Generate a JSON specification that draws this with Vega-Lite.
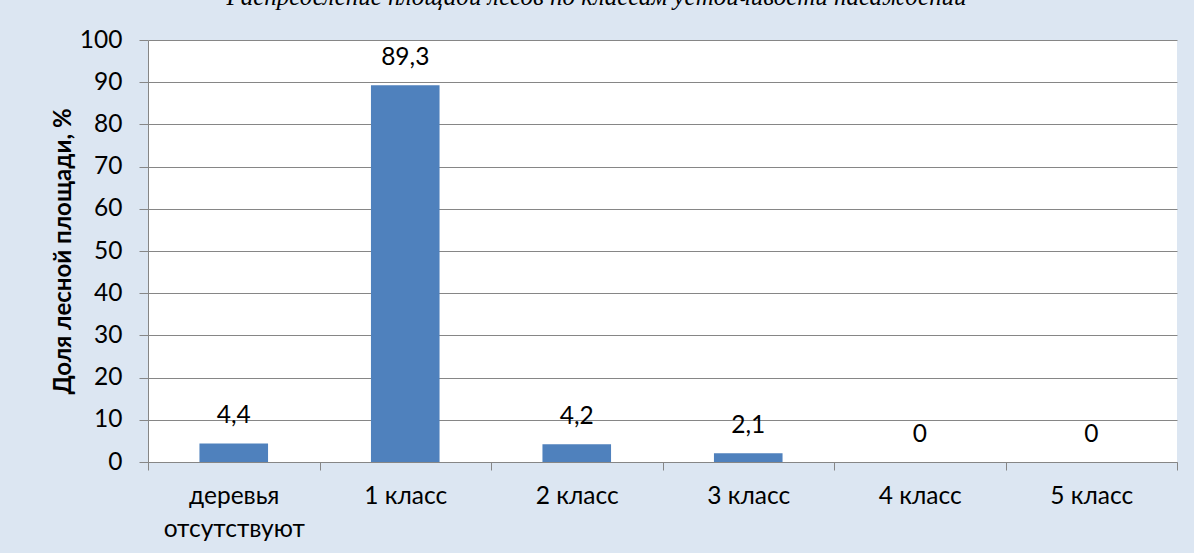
{
  "$schema": "https://vega.github.io/schema/vega-lite/v6.json",
  "width": 1029,
  "height": 422,
  "autosize": {"type": "none"},
  "padding": {"left": 148, "top": 40, "right": 17, "bottom": 91},
  "background": "#DCE6F2",
  "title": {
    "text": "Распределение площади лесов по классам устойчивости насаждений",
    "font": "Liberation Serif",
    "fontStyle": "italic",
    "fontWeight": "normal",
    "fontSize": 25,
    "color": "#000000",
    "anchor": "middle",
    "dx": -66,
    "dy": 23,
    "offset": 20,
    "baseline": "alphabetic"
  },
  "data": {
    "values": [
      {"class": "деревья отсутствуют", "share": 4.4},
      {"class": "1 класс", "share": 89.3},
      {"class": "2 класс", "share": 4.2},
      {"class": "3 класс", "share": 2.1},
      {"class": "4 класс", "share": 0},
      {"class": "5 класс", "share": 0}
    ]
  },
  "encoding": {
    "x": {
      "field": "class",
      "type": "nominal",
      "sort": null,
      "scale": {"paddingInner": 0, "paddingOuter": 0},
      "axis": {
        "title": null,
        "labelAngle": 0,
        "tickBand": "extent",
        "domainColor": "#868686",
        "tickColor": "#868686",
        "tickSize": 8,
        "labelFont": "Lato",
        "labelFontSize": 24.5,
        "labelColor": "#000000",
        "labelPadding": 14,
        "labelBaseline": "top",
        "labelLineHeight": 33,
        "labelExpr": "datum.value == 'деревья отсутствуют' ? ['деревья', 'отсутствуют'] : datum.value"
      }
    },
    "y": {
      "field": "share",
      "type": "quantitative",
      "scale": {"domain": [0, 100]},
      "axis": {
        "title": "Доля лесной площади, %",
        "titleFont": "Lato",
        "titleFontSize": 24,
        "titleFontWeight": "bold",
        "titleColor": "#000000",
        "titlePadding": 4,
        "values": [0, 10, 20, 30, 40, 50, 60, 70, 80, 90, 100],
        "grid": true,
        "gridColor": "#868686",
        "domainColor": "#868686",
        "tickColor": "#868686",
        "tickSize": 9,
        "labelFont": "Lato",
        "labelFontSize": 24.5,
        "labelColor": "#000000",
        "labelPadding": 17
      }
    }
  },
  "layer": [
    {"mark": {"type": "bar", "color": "#4F81BD", "width": {"band": 0.4}}},
    {
      "mark": {"type": "text", "baseline": "middle", "dy": -27, "font": "Lato", "fontSize": 24.5, "color": "#000000"},
      "encoding": {"text": {"field": "share", "type": "quantitative", "format": "~g"}}
    }
  ],
  "config": {
    "view": {"fill": "#FFFFFF", "stroke": null},
    "locale": {"number": {"decimal": ",", "thousands": " ", "grouping": [3], "currency": ["", ""]}}
  }
}
